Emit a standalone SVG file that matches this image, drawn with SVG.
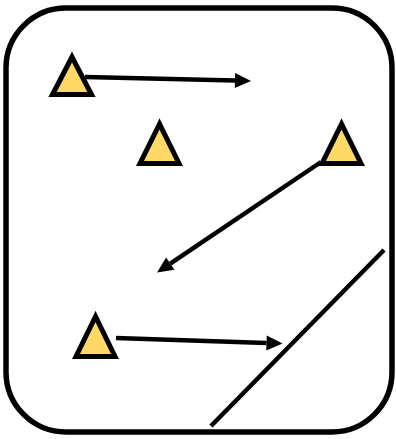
<svg xmlns="http://www.w3.org/2000/svg" width="396" height="439" viewBox="0 0 396 439">
<style>
.frame{fill:#ffffff;stroke:#000;stroke-width:5.5}
.tri{fill:#FFD966;stroke:#000;stroke-width:5;stroke-linejoin:miter}
.conn{fill:none;stroke:#000;stroke-width:4.5}
</style>
<defs>
<marker id="ah" markerUnits="userSpaceOnUse" markerWidth="17" markerHeight="16" refX="0" refY="7.5" orient="auto" overflow="visible">
<path d="M0,0 L16,7.5 L0,15 z" fill="#000"/>
</marker>
</defs>
<rect id="frame" class="frame" x="6" y="8" width="386" height="424" rx="60" ry="60"/>
<g id="tri1"><polygon class="tri" points="72,57 52.5,94.5 91.5,94.5"/></g>
<g id="tri2"><polygon class="tri" points="159.5,124 140,163.5 179,163.5"/></g>
<g id="tri3"><polygon class="tri" points="341.5,124 322,163.5 361,163.5"/></g>
<g id="tri4"><polygon class="tri" points="95.5,316.5 76,356.5 115,356.5"/></g>
<g id="connectors">
<line class="conn" x1="85" y1="77" x2="235" y2="80.6" marker-end="url(#ah)"/>
<line class="conn" x1="321" y1="162" x2="170.3" y2="263.6" marker-end="url(#ah)"/>
<line class="conn" x1="116" y1="338" x2="266.5" y2="343" marker-end="url(#ah)"/>
<line class="conn" x1="384" y1="250" x2="211" y2="426"/>
</g>
</svg>
